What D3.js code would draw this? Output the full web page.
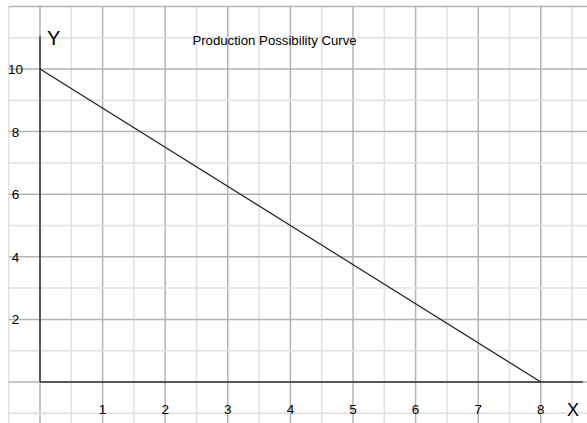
<!DOCTYPE html>
<html>
<head>
<meta charset="utf-8">
<script src="https://cdn.jsdelivr.net/npm/d3@7"></script>
<style>
  body { margin: 0; background: #fff; }
  svg { display: block; font-family: "Liberation Sans", Arial, sans-serif; }
</style>
</head>
<body>
<svg width="587" height="423"></svg>
<script>
// curve data (straight PPC)
const goodX = [0, 8];
const goodY = [10, 0];
const xTicks = [1, 2, 3, 4, 5, 6, 7, 8];
const yTicks = [2, 4, 6, 8, 10];
const title = "Production Possibility Curve";

const svg = d3.select("svg");
const width = +svg.attr("width");
const height = +svg.attr("height");

const x = d3.scaleLinear().domain([0, 8]).range([40, 540.8]);
const y = d3.scaleLinear().domain([0, 10]).range([382, 69]);

// grid: half units across, whole units up
const gx = d3.range(-0.5, 8.76, 0.5);
const gy = d3.range(-1, 12.01, 1);
const isMajorX = v => Math.abs(v - Math.round(v)) < 1e-6;
const isMajorY = v => Math.round(v) % 2 === 0;

const grid = svg.append("g");
grid.selectAll("line.v")
    .data(gx.slice().sort((a, b) => isMajorX(a) - isMajorX(b)))
    .join("line")
    .attr("x1", d => x(d)).attr("x2", d => x(d))
    .attr("y1", y(12)).attr("y2", height)
    .attr("stroke", d => isMajorX(d) ? "#b3b3b3" : "#e0e0e0")
    .attr("stroke-width", 1.5);

grid.selectAll("line.h")
    .data(gy.slice().sort((a, b) => isMajorY(a) - isMajorY(b)))
    .join("line")
    .attr("x1", x(-0.5)).attr("x2", width)
    .attr("y1", d => y(d)).attr("y2", d => y(d))
    .attr("stroke", d => isMajorY(d) ? "#b3b3b3" : "#e0e0e0")
    .attr("stroke-width", 1.5);

// axes
svg.append("line")
    .attr("x1", x(0)).attr("x2", x(0))
    .attr("y1", y(0)).attr("y2", y(11.05))
    .attr("stroke", "#333").attr("stroke-width", 1.5);
svg.append("line")
    .attr("x1", x(0)).attr("x2", x(8.67))
    .attr("y1", y(0)).attr("y2", y(0))
    .attr("stroke", "#333").attr("stroke-width", 1.5);

// tick labels
svg.append("g").selectAll("text")
    .data(xTicks)
    .join("text")
    .attr("x", d => x(d))
    .attr("y", y(0) + 32)
    .attr("text-anchor", "middle")
    .attr("font-size", 13.5)
    .attr("fill", "#000")
    .text(d => d);

svg.append("g").selectAll("text")
    .data(yTicks)
    .join("text")
    .attr("x", 15.5)
    .attr("y", d => y(d) + 5)
    .attr("text-anchor", "middle")
    .attr("font-size", 13.5)
    .attr("fill", "#000")
    .text(d => d);

// axis names
svg.append("text").attr("x", 47).attr("y", 45)
    .attr("font-size", 20).attr("fill", "#000").text("Y");
svg.append("text").attr("x", 567).attr("y", 416)
    .attr("font-size", 18).attr("fill", "#000").text("X");

svg.append("text")
    .attr("x", 274.5).attr("y", 45)
    .attr("text-anchor", "middle")
    .attr("font-size", 13.2)
    .attr("fill", "#000")
    .text(title);

// the curve
const line = d3.line()
    .x(d => x(d[0]))
    .y(d => y(d[1]));

svg.append("path")
    .attr("d", line(d3.zip(goodX, goodY)))
    .attr("fill", "none")
    .attr("stroke", "#222")
    .attr("stroke-width", 1.2);
</script>
</body>
</html>
